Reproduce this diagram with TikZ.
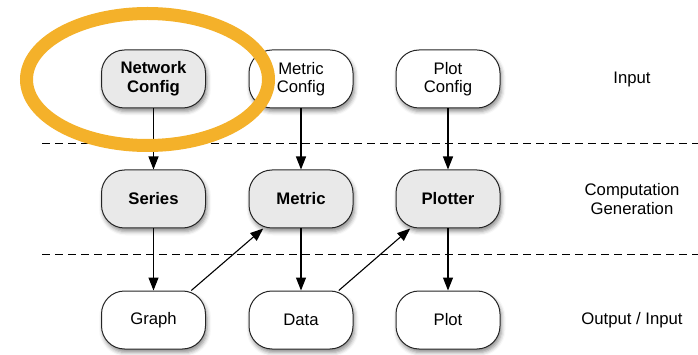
\documentclass[tikz,border=0pt]{standalone}
\usepackage{fontspec}
\setmainfont{Liberation Sans}
\usetikzlibrary{arrows.meta,shadows.blur,shapes.geometric}
\definecolor{stagefill}{RGB}{233,233,233}
\definecolor{marker}{RGB}{244,177,42}
\tikzset{
  box/.style={draw=black!85, line width=1pt, rounded corners=23pt,
    minimum width=104pt, minimum height=58pt, inner sep=0pt, align=center,
    font=\fontsize{16.7}{18.6}\selectfont, fill=white,
    blur shadow={shadow xshift=1.5pt, shadow yshift=-3.5pt, shadow blur radius=4pt, shadow opacity=45}},
  stage/.style={box, fill=stagefill, font=\fontsize{16.7}{18.6}\selectfont\bfseries},
  layer/.style={align=center, font=\fontsize{16.7}{18.6}\selectfont},
  flow/.style={line width=1.1pt, -{Triangle[length=13pt,width=10pt]}},
  divider/.style={line width=1pt, dash pattern=on 8pt off 5pt}
}
\begin{document}
\begin{tikzpicture}[x=1pt,y=-1pt]
\useasboundingbox (0,0) rectangle (698,355);

% layer separators
\coordinate (d1a) at (42,144);  \coordinate (d1b) at (698,144);
\coordinate (d2a) at (42,254);  \coordinate (d2b) at (698,254);
\draw[divider] (d1a) -- (d1b);
\draw[divider] (d2a) -- (d2b);

% input row
\node[stage] (netcfg) at (153.5,79) {Network\\Config};
\node[box]   (metcfg) at (301,79)   {Metric\\Config};
\node[box]   (plotcfg) at (448,79)  {Plot\\Config};

% computation row
\node[stage] (series)  at (153.5,199) {Series};
\node[stage] (metric)  at (301,199)   {Metric};
\node[stage] (plotter) at (448,199)   {Plotter};

% output row
\node[box] (graph) at (153.5,320) {Graph};
\node[box] (data)  at (301,320)   {Data};
\node[box] (plot)  at (448,320)   {Plot};

% layer captions
\node[layer] (lin)  at (632,79)  {Input};
\node[layer] (lcomp) at (632,199) {Computation\\Generation};
\node[layer] (lout) at (632,320) {Output / Input};

% data flow
\draw[flow] (netcfg.south) -- (series.north);
\draw[flow] (metcfg.south) -- (metric.north);
\draw[flow] (plotcfg.south) -- (plotter.north);
\draw[flow] (series.south) -- (graph.north);
\draw[flow] (metric.south) -- (data.north);
\draw[flow] (plotter.south) -- (plot.north);
\draw[flow] (graph.38.5) -- (metric.218);
\draw[flow] (data.38.5) -- (plotter.218);

% highlight ring
\node[draw=marker, line width=13pt, ellipse, minimum width=242pt, minimum height=132pt, inner sep=0pt] (ring) at (147.5,79.5) {};
\end{tikzpicture}
\end{document}
